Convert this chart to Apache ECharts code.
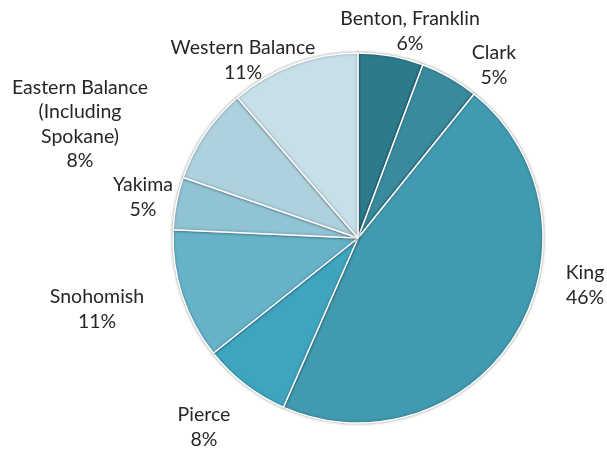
<!DOCTYPE html>
<html>
<head>
<meta charset="utf-8">
<script src="https://cdn.jsdelivr.net/npm/echarts@6/dist/echarts.min.js"></script>
<style>
html,body{margin:0;padding:0;background:#fff;}
#main{width:607px;height:454px;}
</style>
</head>
<body>
<div id="main"></div>
<script>
const categories = ["Benton, Franklin", "Clark", "King", "Pierce", "Snohomish", "Yakima", "Eastern Balance\n(Including\nSpokane)", "Western Balance"];
// shares (%); labels show them rounded
const shares = [5.7, 5.1, 45.8, 7.7, 11.4, 4.6, 8.4, 11.3];

const sliceColors = ["#2C7A8C", "#3A8A9E", "#419AB0", "#3FA4BE", "#66B2C9", "#90C3D4", "#ADD1DD", "#C7DFE8"];
const pieCenter = [358, 238];
const labelOffsets = [[52,-207],[136,-173],[227,47],[-154,189],[-261,71],[-215,-41],[-278,-114],[-115,-178]];

const chart = echarts.init(document.getElementById('main'));
chart.setOption({
  animation: false,
  backgroundColor: '#fff',
  series: [{
    type: 'pie',
    center: pieCenter,
    radius: 185,
    startAngle: 90,
    clockwise: true,
    avoidLabelOverlap: false,
    data: categories.map((c, i) => ({ name: c, value: shares[i], itemStyle: { color: sliceColors[i] } })),
    itemStyle: {
      borderColor: '#fff',
      borderWidth: 1.5,
      shadowBlur: 3,
      shadowColor: 'rgba(0,0,0,0.35)'
    },
    label: {
      show: true,
      position: 'outside',
      formatter: p => p.name + '\n' + Math.round(p.percent) + '%',
      fontFamily: 'Lato',
      fontSize: 19.5,
      lineHeight: 24.5,
      color: '#262626',
      align: 'center'
    },
    labelLine: { show: false },
    labelLayout: function (params) {
      const o = labelOffsets[params.dataIndex];
      return { x: pieCenter[0] + o[0], y: pieCenter[1] + o[1], align: 'center', verticalAlign: 'middle' };
    },
    emphasis: { disabled: true }
  }]
});
</script>
</body>
</html>
